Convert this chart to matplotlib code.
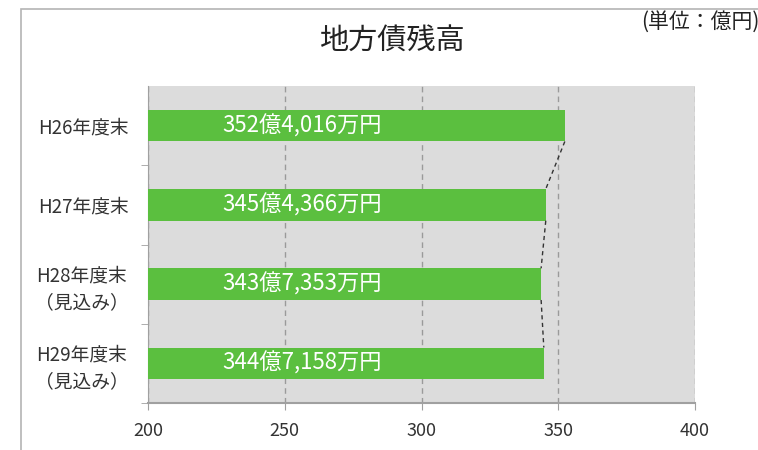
import matplotlib.pyplot as plt
from matplotlib.patches import Rectangle

plt.rcParams['font.family'] = ['Noto Sans CJK JP', 'DejaVu Sans']

categories = ['H26年度末', 'H27年度末', 'H28年度末\n（見込み）', 'H29年度末\n（見込み）']
values = [352.4016, 345.4366, 343.7353, 344.7158]
labels = ['352億4,016万円', '345億4,366万円', '343億7,353万円', '344億7,158万円']
xticks = [200, 250, 300, 350, 400]

bar_color = '#5BBF3F'
bg_color = '#DCDCDC'
grid_color = '#9A9A9A'
bar_h = 0.4

fig = plt.figure(figsize=(7.58, 4.5), dpi=100)
# outer chart frame
fig.patches.append(Rectangle((21 / 758, -0.1), 1.1, 1 - 9 / 450 + 0.1, transform=fig.transFigure,
                             fill=False, edgecolor='#B4B4B4', linewidth=1.2))

ax = fig.add_axes([148 / 758, 1 - 403 / 450, 547 / 758, 317 / 450])
ax.set_facecolor(bg_color)

ypos = list(range(len(categories)))
ax.barh(ypos, [v - 200 for v in values], left=200, height=bar_h, color=bar_color, zorder=3)

# series lines between bars
for i in range(len(values) - 1):
    ax.plot([values[i], values[i + 1]], [ypos[i] + bar_h / 2, ypos[i + 1] - bar_h / 2],
            color='#333333', linestyle=(0, (3, 2.5)), linewidth=1, zorder=4)

for y, lab in zip(ypos, labels):
    ax.text(227, y, lab, color='white', fontsize=16, va='center', ha='left', zorder=5)

ax.set_xlim(200, 400)
ax.set_ylim(len(categories) - 0.5, -0.5)
ax.set_xticks(xticks)
ax.set_xticklabels([str(t) for t in xticks], fontsize=13, color='#333333')
ax.tick_params(axis='x', direction='out', length=5, color='#A0A0A0', pad=9)
ax.set_yticks(ypos)
ax.set_yticklabels(categories, fontsize=13.5, color='#333333', linespacing=1.35,
                   multialignment='center')
ax.tick_params(axis='y', length=0, pad=14)
ax.set_yticks([0.5, 1.5, 2.5, 3.5], minor=True)
ax.tick_params(axis='y', which='minor', length=5, color='#A0A0A0', direction='out')

ax.grid(axis='x', color=grid_color, linestyle=(0, (4, 3)), linewidth=1, zorder=1)
for s in ['top', 'right']:
    ax.spines[s].set_visible(False)
ax.spines['left'].set_color('#A0A0A0')
ax.spines['bottom'].set_color('#A0A0A0')
ax.spines['bottom'].set_linewidth(1.5)

fig.text(392 / 758, 1 - 41 / 450, '地方債残高', fontsize=21, ha='center', va='center', color='#222222')
fig.text(641 / 758, 1 - 22 / 450, '(単位：億円)', fontsize=15, ha='left', va='center', color='#222222')

fig.savefig('out.png', dpi=100)
